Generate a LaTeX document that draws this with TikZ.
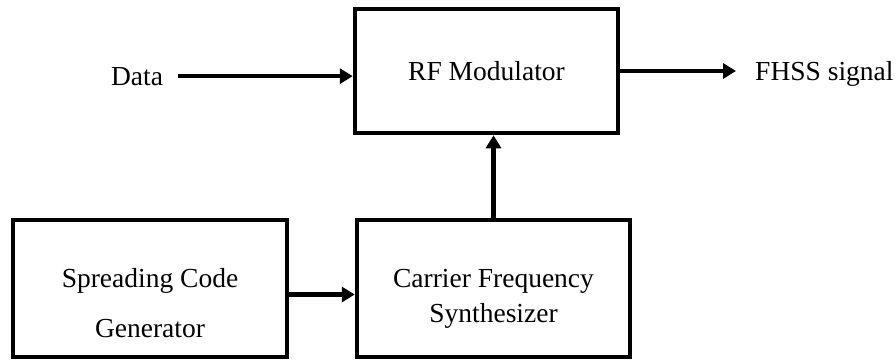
\documentclass[tikz,border=0pt]{standalone}
\usepackage{fontspec}
\setmainfont{Liberation Serif}
\usetikzlibrary{arrows.meta}

\begin{document}
\begin{tikzpicture}[x=1pt,y=-1pt,
 blk/.style={draw=black,line width=4.5pt,inner sep=0pt},
 lbl/.style={inner sep=0pt,font=\fontsize{27.5}{33}\selectfont,align=center},
 arr/.style={line width=4.5pt,-{Triangle[length=13pt,width=15pt]}}]
\useasboundingbox[fill=white] (0,0) rectangle (896,360);
\node[blk,minimum width=263pt,minimum height=124pt] (rf) at (486.5,71) {};
\node[blk,minimum width=274pt,minimum height=137pt] (scg) at (150,288.5) {};
\node[blk,minimum width=273pt,minimum height=137pt] (cfs) at (493.5,288.5) {};
\node[lbl,anchor=base] (rftxt) at (486.5,80) {RF Modulator};
\node[lbl] (scgtxt) at (150,303.5) {Spreading Code\\[17pt]Generator};
\node[lbl] (cfstxt) at (493.5,299) {Carrier Frequency\\[2pt]Synthesizer};
\node[lbl,anchor=base] (data) at (137,85) {Data};
\node[lbl,anchor=base west] (fhss) at (755,80) {FHSS signal};
\draw[arr,shorten <=15pt] (data.east) -- (data.east -| rf.west);
\draw[arr,shorten >=19pt] (rf.east) -- (rf.east -| fhss.west);
\draw[arr] (cfs.north) -- (cfs.north |- rf.south);
\draw[arr] ([yshift=-6pt]scg.east) -- ([yshift=-6pt]cfs.west);
\end{tikzpicture}
\end{document}
